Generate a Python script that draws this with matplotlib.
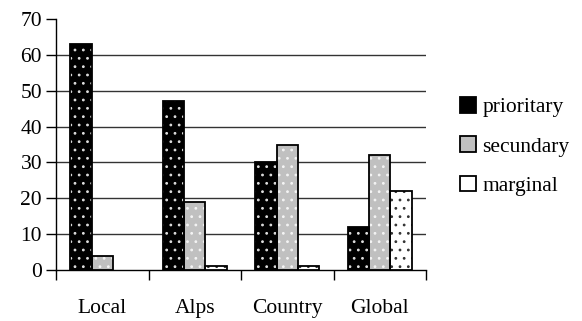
import matplotlib
matplotlib.use("Agg")
import matplotlib.pyplot as plt
import numpy as np

categories = ["Local", "Alps", "Country", "Global"]
series_names = ["prioritary", "secundary", "marginal"]
prioritary = [63, 47, 30, 12]
secundary = [4, 19, 35, 32]
marginal = [0, 1, 1, 22]
yticks = [0, 10, 20, 30, 40, 50, 60, 70]

plt.rcParams['font.family'] = ['Liberation Serif', 'DejaVu Serif']
plt.rcParams['hatch.linewidth'] = 0.8

fig = plt.figure(figsize=(5.82, 3.21), dpi=100)
ax = fig.add_axes([56/582, 1 - 270/321, (426-56)/582, (270-19)/321])

x = np.arange(len(categories))
w = 0.23
fills = ["black", "#c0c0c0", "white"]
dots = ["#dddddd", "#f4f4f4", "#333333"]
data = [prioritary, secundary, marginal]
handles = []
for i, (vals, fc, dc) in enumerate(zip(data, fills, dots)):
    pos = x + (i - 1) * w
    ax.bar(pos, vals, w, color=fc, edgecolor=dc, hatch='..', linewidth=0, zorder=3)
    ecs = ['black' if v > 0 else 'none' for v in vals]
    ax.bar(pos, vals, w, facecolor='none', edgecolor=ecs, linewidth=1.3, zorder=4)
    h = plt.Rectangle((0, 0), 1, 1, facecolor=fc, edgecolor='black', linewidth=1.3)
    handles.append(h)

ax.set_xlim(-0.5, 3.5)
ax.set_ylim(0, 70)
ax.set_yticks(yticks)
ax.set_yticklabels([str(v) for v in yticks], fontsize=15.5)
ax.set_xticks(x)
ax.set_xticklabels(categories, fontsize=15.5)
ax.set_xticks(np.arange(-0.5, 4.0, 1.0), minor=True)
ax.tick_params(axis='x', which='major', length=0, pad=21)
ax.tick_params(axis='x', which='minor', length=7, direction='out', width=1)
ax.tick_params(axis='y', length=7, direction='out', width=1, pad=3)

for v in yticks[1:-1]:
    ax.axhline(v, color='#333333', linewidth=1.0, zorder=1)

for s in ['top', 'right']:
    ax.spines[s].set_visible(False)
ax.spines['left'].set_linewidth(1.0)
ax.spines['bottom'].set_linewidth(1.0)

leg = fig.legend(handles, series_names, loc='upper left', bbox_to_anchor=(460/582, 1 - 97/321),
                 frameon=False, fontsize=15.5, handlelength=0.75, handleheight=0.75,
                 handletextpad=0.3, labelspacing=0.88, borderaxespad=0, borderpad=0)

fig.savefig("out.png", dpi=100)
